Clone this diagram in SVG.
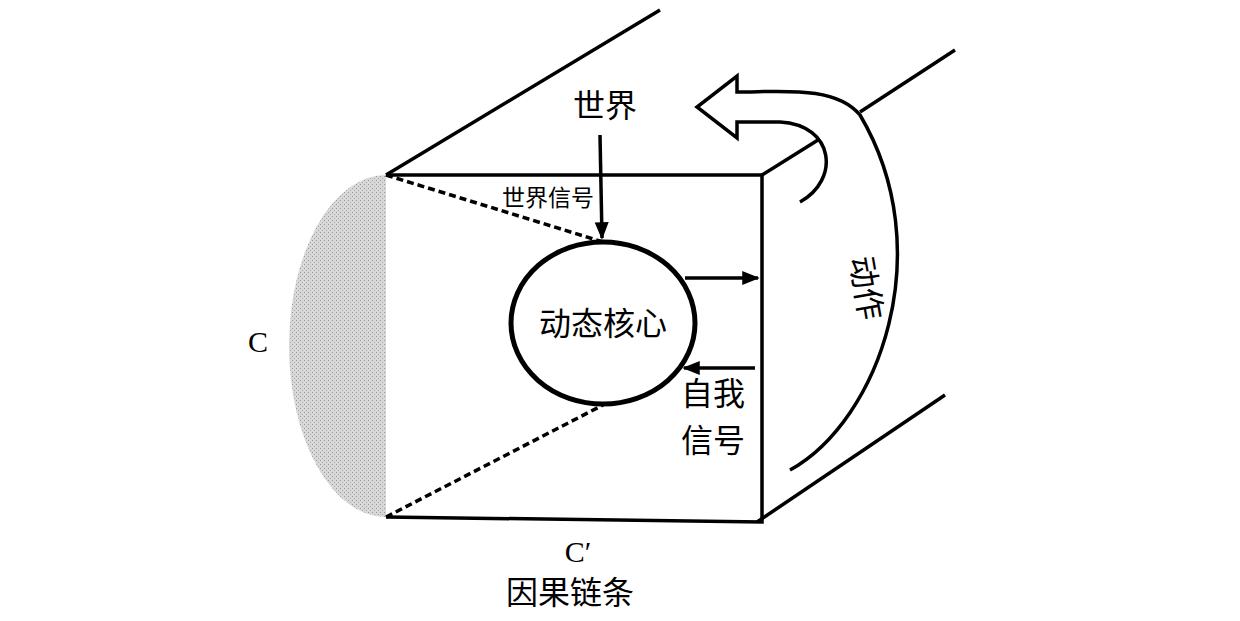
<svg xmlns="http://www.w3.org/2000/svg" width="1240" height="621" viewBox="0 0 1240 621">
<defs>
<style>
.l{stroke:#000;stroke-width:3.5;fill:none}
.t{font-family:"Liberation Serif","Noto Sans CJK SC",serif;fill:#000;text-anchor:middle}
</style>
<marker id="ah" viewBox="0 0 10 10" refX="9" refY="5" markerWidth="5" markerHeight="5" orient="auto"><path d="M0,1L10,5L0,9z" fill="#000"/></marker>
<pattern id="dots" width="4" height="4" patternUnits="userSpaceOnUse"><rect width="4" height="4" fill="#d8d8d8"/><rect width="1" height="1" fill="#999"/><rect x="2" y="2" width="1" height="1" fill="#aaa"/></pattern>
</defs>
<rect width="1240" height="621" fill="#fff"/>
<g id="shade"><path d="M386,175 A97,171 0 0 0 386,517 Z" fill="url(#dots)"/></g>
<g id="box">
<path class="l" d="M386,175 L762,175 L762,522 L386,517"/>
<path class="l" d="M386,175 L660,10"/>
<path class="l" d="M762,175 L818,140" stroke-width="4.5"/>
<path class="l" d="M860,112 L955,50"/>
<path class="l" d="M757,522 L945,395"/>
</g>
<g id="core"><ellipse cx="603" cy="323" rx="92" ry="81" fill="none" stroke="#000" stroke-width="5"/>
<text class="t" x="603" y="335" font-size="32">动态核心</text></g>
<g id="connectors">
<path class="l" d="M386,175 L603,242" stroke-dasharray="7,4"/>
<path class="l" d="M386,517 L603,405" stroke-dasharray="7,4"/>
<path class="l" d="M600,135 L602,238" marker-end="url(#ah)"/>
<path class="l" d="M685,278 L758,278" marker-end="url(#ah)"/>
<path class="l" d="M755,368 L684,368" marker-end="url(#ah)"/>
<path class="l" d="M790,470 C880,420 940,250 860,115 C835,85 780,92 737,92 L737,76 L697,107 L737,138 L737,122 L780,122 C835,125 840,180 800,202"/>
</g>
<g id="labels">
<text class="t" x="605" y="117" font-size="32">世界</text>
<text class="t" x="548" y="206" font-size="23">世界信号</text>
<text class="t" x="713" y="405" font-size="32">自我</text>
<text class="t" x="713" y="452" font-size="32">信号</text>
<text class="t" x="855" y="290" font-size="32" transform="rotate(80 855 290)">动作</text>
<text class="t" x="258" y="352" font-size="30">C</text>
<text class="t" x="578" y="562" font-size="30">C′</text>
<text class="t" x="570" y="604" font-size="32">因果链条</text>
</g>
</svg>
